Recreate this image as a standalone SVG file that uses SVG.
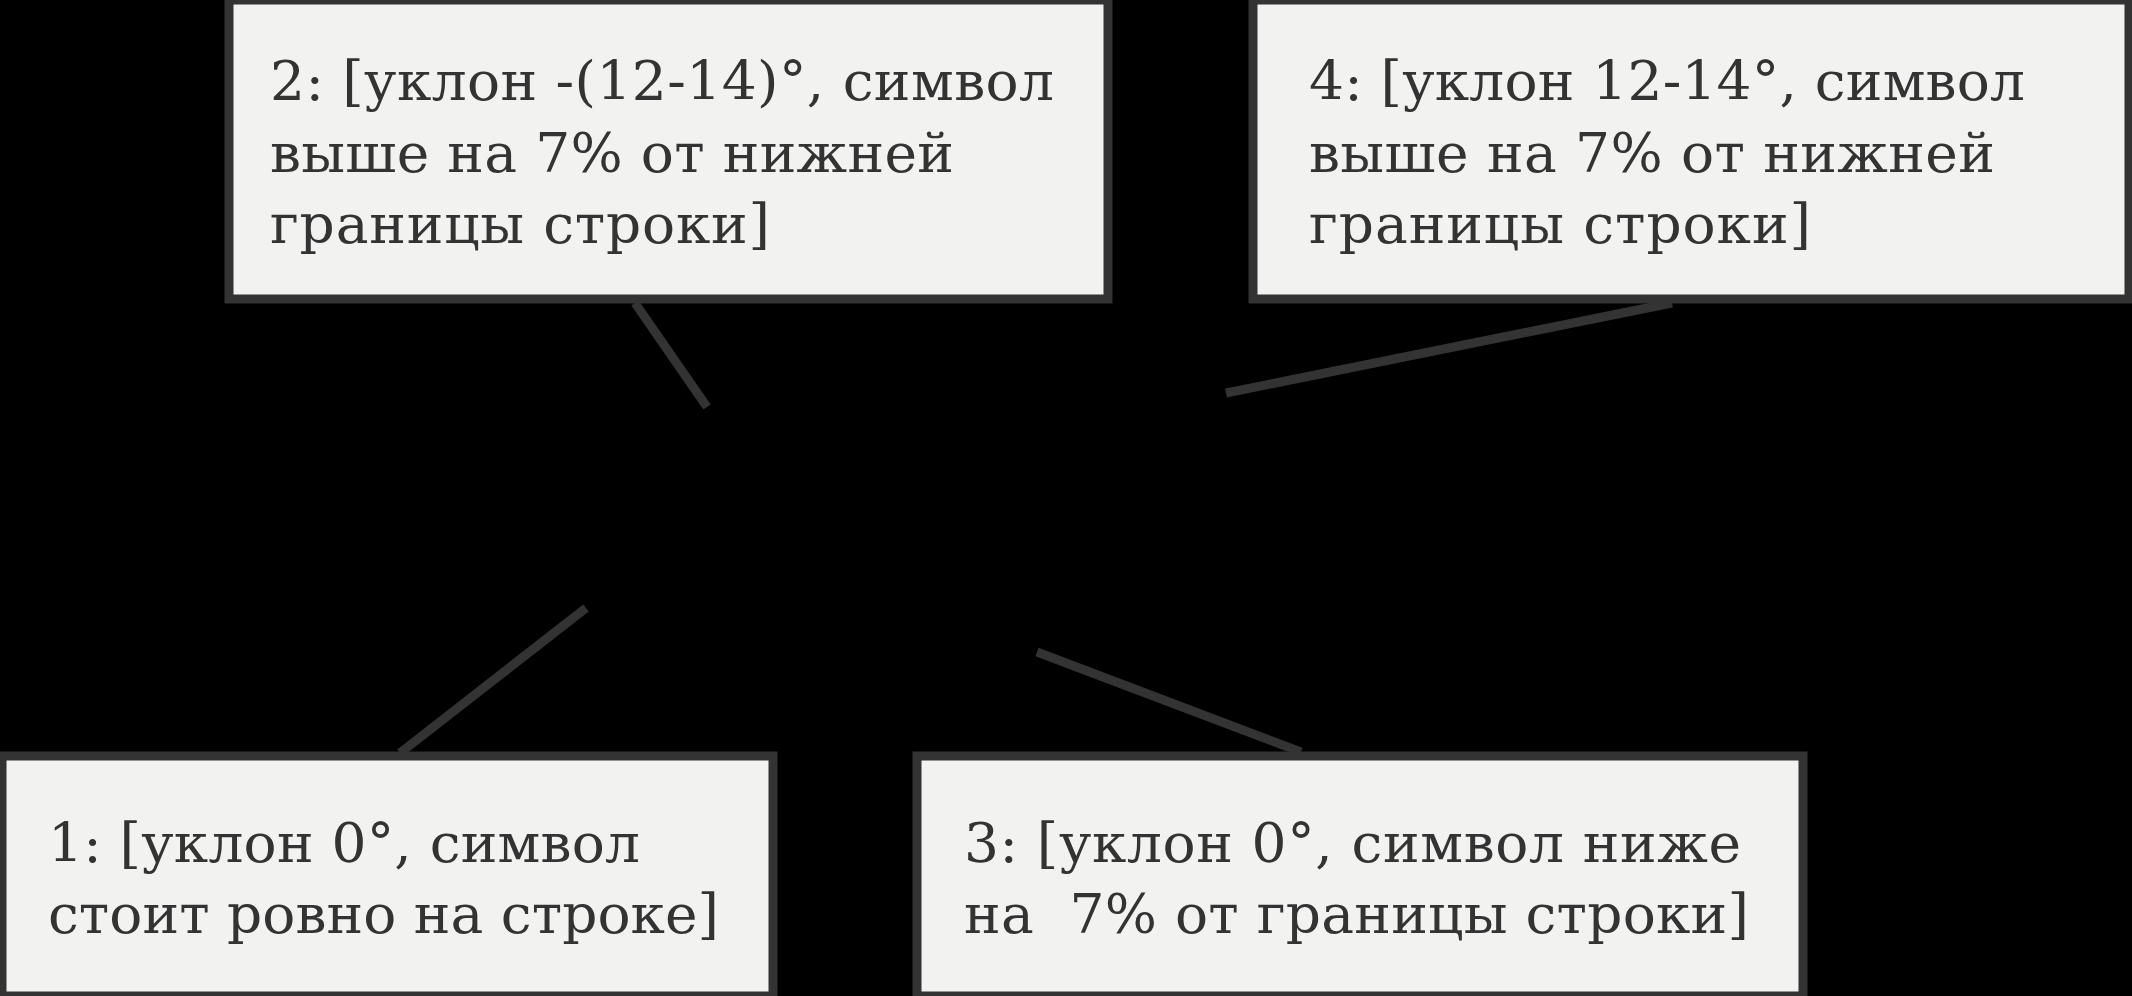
<svg xmlns="http://www.w3.org/2000/svg" width="2132" height="996" viewBox="0 0 2132 996">
<style>
.box{fill:#f2f2f0;stroke:#333333;stroke-width:9}
.t{font-family:"DejaVu Serif","Liberation Serif",serif;font-size:55px;fill:#333333}
.edge{stroke:#333333;stroke-width:9;fill:none}
</style>
<rect x="0" y="0" width="2132" height="996" fill="#000000"/>
<g id="connectors">
<line class="edge" x1="635" y1="303" x2="707" y2="407"/>
<line class="edge" x1="1672" y1="303" x2="1226" y2="393"/>
<line class="edge" x1="586" y1="608" x2="400" y2="753"/>
<line class="edge" x1="1037" y1="652" x2="1301" y2="752"/>
</g>
<g id="node2">
<rect class="box" x="229" y="0" width="879" height="299"/>
<text class="t" x="270" y="100" textLength="784" lengthAdjust="spacing">2: [уклон -(12-14)°, символ</text>
<text class="t" x="270" y="172" textLength="684" lengthAdjust="spacing">выше на 7% от нижней</text>
<text class="t" x="270" y="243" textLength="500" lengthAdjust="spacing">границы строки]</text>
</g>
<g id="node4">
<rect class="box" x="1253" y="0" width="876" height="299"/>
<text class="t" x="1309" y="100" textLength="716" lengthAdjust="spacing">4: [уклон 12-14°, символ</text>
<text class="t" x="1309" y="172" textLength="686" lengthAdjust="spacing">выше на 7% от нижней</text>
<text class="t" x="1309" y="243" textLength="502" lengthAdjust="spacing">границы строки]</text>
</g>
<g id="node1">
<rect class="box" x="2" y="756" width="771" height="240"/>
<text class="t" x="48" y="862" textLength="592" lengthAdjust="spacing">1: [уклон 0°, символ</text>
<text class="t" x="48" y="933" textLength="671" lengthAdjust="spacing">стоит ровно на строке]</text>
</g>
<g id="node3">
<rect class="box" x="917" y="756" width="886" height="240"/>
<text class="t" x="964" y="862" textLength="777" lengthAdjust="spacing">3: [уклон 0°, символ ниже</text>
<text class="t" x="964" y="933" textLength="785" lengthAdjust="spacing" xml:space="preserve">на  7% от границы строки]</text>
</g>
</svg>
